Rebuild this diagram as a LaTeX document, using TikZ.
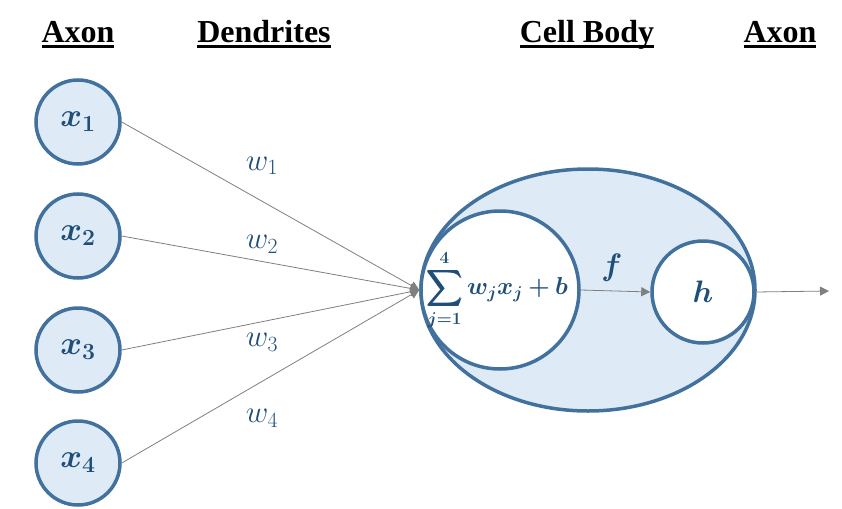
\RequirePackage{fix-cm}
\documentclass[tikz,border=0pt]{standalone}
\usepackage{amsmath,bm}
\usepackage{fontspec}
\setmainfont{Liberation Serif}
\usetikzlibrary{shapes.geometric,arrows.meta}
\definecolor{edgeblue}{HTML}{41719C}
\definecolor{fillblue}{HTML}{DEEBF7}
\definecolor{txtblue}{HTML}{1F4E79}
\definecolor{linegray}{HTML}{7F7F7F}
\newcommand\hdtext[1]{\setbox0\hbox{#1}\leavevmode\rlap{\copy0}\rule[-5pt]{\wd0}{2.6pt}}
\tikzset{
  heading/.style={anchor=base,font=\fontsize{32}{36}\selectfont\bfseries},
  inputnode/.style={circle,draw=edgeblue,fill=fillblue,line width=3.5pt,minimum size=84pt,inner sep=0pt,text=txtblue,font=\fontsize{33}{38}\selectfont},
  wlabel/.style={text=txtblue,font=\fontsize{31}{36}\selectfont},
  conn/.style={draw=linegray,line width=0.8pt,-{Triangle[length=9pt,width=9pt]}},
  wire/.style={draw=linegray,line width=0.8pt}
}
\begin{document}
\begin{tikzpicture}[x=1pt,y=-1pt]
\useasboundingbox (0,0) rectangle (842,508);
% headings
\node[heading] (h1) at (78,43) {\hdtext{Axon}};
\node[heading] (h2) at (264,43) {\hdtext{Dendrites}};
\node[heading] (h3) at (587,43) {\hdtext{Cell Body}};
\node[heading] (h4) at (780,43) {\hdtext{Axon}};
% cell body
\node[ellipse,draw=edgeblue,fill=fillblue,line width=3.5pt,minimum width=334pt,minimum height=242pt,inner sep=0pt] (body) at (588,290) {};
\node[circle,draw=edgeblue,fill=white,line width=3.5pt,minimum size=158pt,inner sep=0pt] (sum) at (500,290) {};
\node[text=txtblue,font=\fontsize{24.5}{29}\selectfont,inner sep=0pt] (sumtxt) at (497,290) {$\displaystyle\bm{\sum_{j=1}^{4} w_j x_j + b}$};
\node[circle,draw=edgeblue,fill=white,line width=3.5pt,minimum size=102pt,inner sep=0pt,text=txtblue,font=\fontsize{31}{36}\selectfont] (hh) at (703,292) {$\bm{h}$};
% inputs
\node[inputnode] (x1) at (78,122) {$\bm{x_1}$};
\node[inputnode] (x2) at (78,236) {$\bm{x_2}$};
\node[inputnode] (x3) at (78,350) {$\bm{x_3}$};
\node[inputnode] (x4) at (78,463) {$\bm{x_4}$};
% connectors
\draw[conn] (x1.east) -- (sum.west);
\draw[conn] (x2.east) -- (sum.west);
\draw[conn] (x3.east) -- (sum.west);
\draw[conn] (x4.east) -- (sum.west);
\draw[conn] (sum.east) -- (hh.west);
\coordinate (out) at (829,291);
\draw[conn] (hh.east) -- (out);
% labels
\node[wlabel] (w1) at (262,166) {$w_1$};
\node[wlabel] (w2) at (262,244) {$w_2$};
\node[wlabel] (w3) at (262,342) {$w_3$};
\node[wlabel] (w4) at (262,418) {$w_4$};
\node[text=txtblue,font=\fontsize{31}{36}\selectfont] (f) at (612,268) {$\bm{f}$};
\end{tikzpicture}
\end{document}
